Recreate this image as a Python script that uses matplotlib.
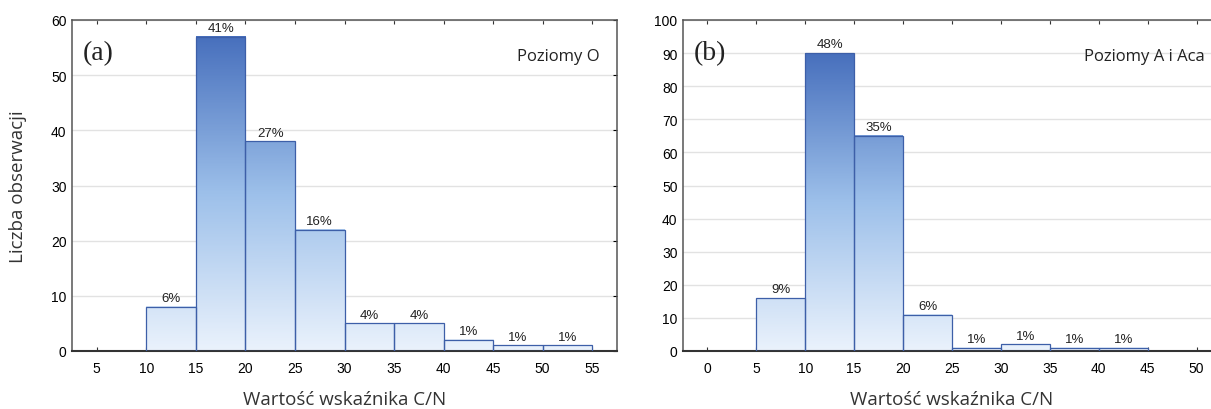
import numpy as np
import matplotlib
matplotlib.use('Agg')
import matplotlib.pyplot as plt
from matplotlib.colors import LinearSegmentedColormap

# Dane: liczebności w przedziałach wskaźnika C/N
edges_a = [10, 15, 20, 25, 30, 35, 40, 45, 50, 55]
counts_a = [8, 57, 38, 22, 5, 5, 2, 1, 1]
edges_b = [5, 10, 15, 20, 25, 30, 35, 40, 45]
counts_b = [16, 90, 65, 11, 1, 2, 1, 1]

xticks_a = [5, 10, 15, 20, 25, 30, 35, 40, 45, 50, 55]
xticks_b = [0, 5, 10, 15, 20, 25, 30, 35, 40, 45, 50]

cmap = LinearSegmentedColormap.from_list(
    'grad', [(0.0, '#eaf2fc'), (0.5, '#9dc0ea'), (1.0, '#4870bd')])

fig = plt.figure(figsize=(12.11, 4.10), dpi=100)
ax_a = fig.add_axes([72 / 1211, 1 - 352 / 410, (617 - 72) / 1211, (352 - 21) / 410])
ax_b = fig.add_axes([683 / 1211, 1 - 352 / 410, (1221 - 683) / 1211, (352 - 21) / 410])


def draw_hist(ax, edges, counts, xticks, xlim, ymax, ystep, tag, name):
    hmax = max(counts)
    total = sum(counts)
    for x0, x1, h in zip(edges[:-1], edges[1:], counts):
        grad = np.linspace(0, h / hmax, 200)[:, None]
        ax.imshow(grad, extent=(x0, x1, 0, h), origin='lower', aspect='auto',
                  cmap=cmap, vmin=0, vmax=1, zorder=2, interpolation='bilinear')
        ax.bar(x0, h, width=x1 - x0, align='edge', facecolor='none',
               edgecolor='#3d5fa8', linewidth=0.9, zorder=3)
        ax.text((x0 + x1) / 2, h + ymax * 0.008, '%d%%' % round(100 * h / total),
                ha='center', va='bottom', fontsize=9.5, family='Liberation Sans',
                color='#222222', zorder=4)
    ax.set_xlim(*xlim)
    ax.set_ylim(0, ymax)
    ax.set_xticks(xticks)
    ax.set_yticks(np.arange(0, ymax + 1, ystep))
    ax.grid(axis='y', color='#e2e2e2', linewidth=1.0, zorder=0)
    ax.set_axisbelow(True)
    for s in ax.spines.values():
        s.set_color('#555555')
        s.set_linewidth(1.1)
    ax.spines['bottom'].set_color('#333333')
    ax.spines['bottom'].set_linewidth(1.5)
    ax.tick_params(axis='x', direction='in', length=3, top=True, bottom=True,
                   pad=7, labelsize=10, color='#333333')
    ax.tick_params(axis='y', direction='in', length=3, left=False, right=True,
                   pad=4, labelsize=10)
    for lab in ax.get_xticklabels() + ax.get_yticklabels():
        lab.set_family('Liberation Sans')
    ax.set_xlabel('Wartość wskaźnika C/N', family='Open Sans', fontsize=13.5,
                  color='#333333', labelpad=11)
    ax.text(0.02, 0.9, tag, transform=ax.transAxes, family='Liberation Serif',
            fontsize=20, ha='left', va='center', color='#222222')
    ax.text(0.969, 0.89, name, transform=ax.transAxes, family='Open Sans',
            fontsize=12, ha='right', va='center', color='#222222')


draw_hist(ax_a, edges_a, counts_a, xticks_a, (2.5, 57.5), 60, 10, '(a)', 'Poziomy O')
draw_hist(ax_b, edges_b, counts_b, xticks_b, (-2.5, 52.5), 100, 10, '(b)', 'Poziomy A i Aca')

ax_a.set_ylabel('Liczba obserwacji', family='Open Sans', fontsize=13.5,
                color='#333333', labelpad=17)

fig.savefig('out.png', dpi=100)
